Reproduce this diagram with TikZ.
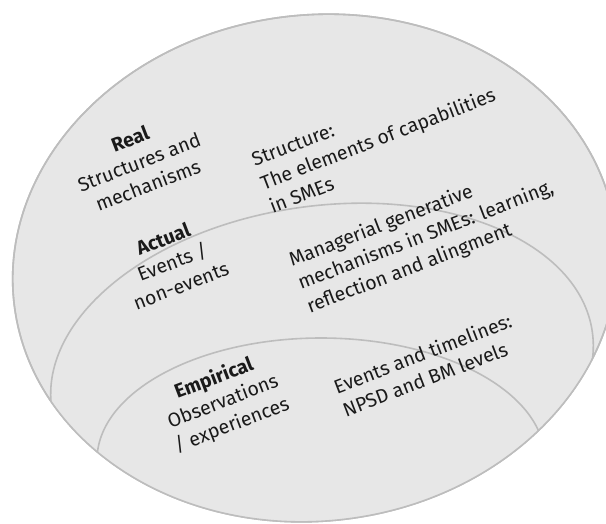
\documentclass[tikz,border=0pt]{standalone}
\usepackage{fontspec}
\setmainfont{Fira Sans}
\definecolor{shade}{HTML}{E7E7E7}
\definecolor{rim}{HTML}{BDBDBD}
\definecolor{ink}{HTML}{1A1A1A}
\begin{document}
\begin{tikzpicture}[x=1pt,y=-1pt,
  layer/.style={fill=shade, draw=rim, line width=1.6pt},
  rimline/.style={draw=rim, line width=1.6pt},
  lbl/.style={rotate=21, align=center, text=ink, inner sep=0pt,
    font=\fontsize{19.5}{25}\selectfont},
  desc/.style={lbl, align=left}]
\useasboundingbox (0,0) rectangle (606,523);
\def\outerring{(315,268) ellipse [x radius=303pt, y radius=253pt, rotate=7]}
% Real domain (outer)
\path[layer] \outerring;
\begin{scope}
  \clip \outerring;
  % Actual domain
  \path[layer] (322,370) ellipse [x radius=273pt, y radius=164pt, rotate=8];
  % Empirical domain
  \path[layer] (321,460) ellipse [x radius=224pt, y radius=122pt];
\end{scope}
\path[rimline] \outerring;

\node[lbl]  (real)         at (139,162) {\textbf{Real}\\Structures and\\mechanisms};
\node[desc] (realtxt)      at (378,139) {Structure:\\The elements of capabilities\\in SMEs};
\node[lbl]  (actual)       at (172,262) {\textbf{Actual}\\Events /\\non-events};
\node[desc] (actualtxt)    at (426,236) {Managerial generative\\mechanisms in SMEs: learning,\\reflection and alingment};
\node[lbl]  (empirical)    at (223,402) {\textbf{Empirical}\\Observations\\/ experiences};
\node[desc] (empiricaltxt) at (427,365) {Events and timelines:\\NPSD and BM levels};
\end{tikzpicture}
\end{document}
